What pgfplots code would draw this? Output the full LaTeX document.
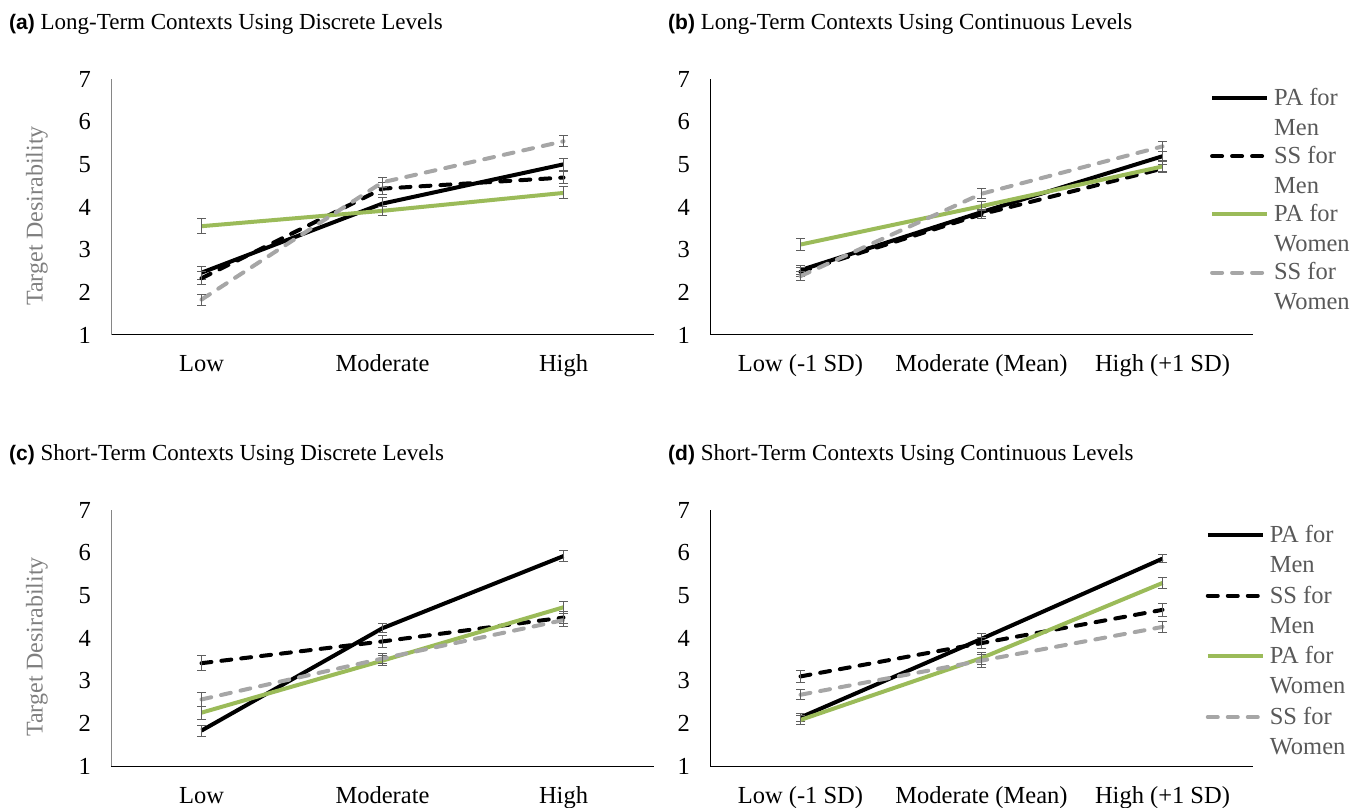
\documentclass[border=0pt]{standalone}
\usepackage{fontspec}
\setmainfont{Liberation Serif}
\setsansfont{Liberation Sans}
\usepackage{pgfplots}
\pgfplotsset{compat=1.18}
\definecolor{pgreen}{RGB}{155,187,89}
\definecolor{sgray}{RGB}{166,166,166}
\definecolor{errgray}{RGB}{95,95,95}
\definecolor{leggray}{RGB}{89,89,89}
\definecolor{labgray}{RGB}{127,127,127}
\definecolor{axgray}{RGB}{134,134,134}
\pgfplotsset{
  panel/.style={
    width=543pt, height=256pt, scale only axis,
    xmin=0, xmax=3, ymin=1, ymax=7,
    ytick={1,2,3,4,5,6,7},
    xtick={0.5,1.5,2.5},
    separate axis lines,
    axis x line*=bottom, axis y line*=left,
    axis line style={-},
    x axis line style={black, line width=1pt},
    major tick length=0pt,
    tick style={draw=none},
    /pgf/number format/assume math mode=true,
    tick label style={font=\fontsize{24.5}{29}\selectfont, black},
    yticklabel style={anchor=east, inner sep=0pt, xshift=-20pt},
    xticklabel style={anchor=base, inner sep=0pt, yshift=-37pt},
    anchor=south west,
    clip=false,
  },
  ylab/.style={
    ylabel={Target Desirability},
    every axis y label/.style={at={(axis description cs:-0.1363,0.465)}, rotate=90, anchor=center,
      font=\fontsize{24}{28}\selectfont, text=labgray},
  },
  leg/.style={
    legend style={draw=none, fill=none, inner sep=0pt, outer sep=0pt,
      font=\fontsize{24.5}{30}\selectfont, text=leggray,
      cells={anchor=west, align=left, inner sep=0pt},
      column sep=3pt, anchor=north west},
    legend image code/.code={\draw[##1] (0pt,14.5pt) -- (55pt,14.5pt);},
  },
  pam/.style={black, line width=4pt, line join=round},
  ssm/.style={black, line width=4pt, line cap=round, dash pattern=on 10pt off 10pt},
  paw/.style={pgreen, line width=4pt, line join=round},
  ssw/.style={sgray, line width=4pt, line cap=round, dash pattern=on 10pt off 10pt},
  eb/.style={
    /pgfplots/error bars/y dir=both,
    /pgfplots/error bars/y explicit,
    /pgfplots/error bars/error bar style={solid, line width=1pt, errgray, line cap=butt},
    /pgfplots/error bars/error mark options={solid, rotate=90, line width=1pt, errgray, mark size=4.5pt, line cap=butt},
  },
}
\begin{document}
\begin{tikzpicture}
\useasboundingbox (0pt,0pt) rectangle (1351pt,807pt);

% titles
\node[anchor=base west, inner sep=0pt, font=\fontsize{23}{28}\selectfont] at (9pt,777pt)
  {{\fontsize{21}{25}\sffamily\bfseries (a)} Long-Term Contexts Using Discrete Levels};
\node[anchor=base west, inner sep=0pt, font=\fontsize{23}{28}\selectfont] at (668pt,777pt)
  {{\fontsize{21}{25}\sffamily\bfseries (b)} Long-Term Contexts Using Continuous Levels};
\node[anchor=base west, inner sep=0pt, font=\fontsize{23}{28}\selectfont] at (9pt,347pt)
  {{\fontsize{21}{25}\sffamily\bfseries (c)} Short-Term Contexts Using Discrete Levels};
\node[anchor=base west, inner sep=0pt, font=\fontsize{23}{28}\selectfont] at (668pt,347pt)
  {{\fontsize{21}{25}\sffamily\bfseries (d)} Short-Term Contexts Using Continuous Levels};

% (a)
\begin{axis}[panel, ylab, at={(111pt,472pt)},
  y axis line style={axgray, line width=1pt},
  xticklabels={Low,Moderate,High}]
\addplot[pam, eb] coordinates {(0.5,2.46) +- (0,0.15) (1.5,4.08) +- (0,0.14) (2.5,5.00) +- (0,0.14)};
\addplot[ssm, eb] coordinates {(0.5,2.33) +- (0,0.15) (1.5,4.43) +- (0,0.14) (2.5,4.69) +- (0,0.14)};
\addplot[paw, eb] coordinates {(0.5,3.55) +- (0,0.17) (1.5,3.91) +- (0,0.10) (2.5,4.33) +- (0,0.14)};
\addplot[ssw, eb] coordinates {(0.5,1.83) +- (0,0.13) (1.5,4.58) +- (0,0.12) (2.5,5.54) +- (0,0.125)};
\end{axis}

% (b)
\begin{axis}[panel, leg, at={(710pt,472pt)},
  y axis line style={black, line width=1pt},
  xticklabels={Low (-1 SD),Moderate (Mean),High (+1 SD)},
  legend style={at={(0.921,0.9727)}, row sep=5.5pt}]
\addplot[pam, eb] coordinates {(0.5,2.52) +- (0,0.11) (1.5,3.88) +- (0,0.11) (2.5,5.19) +- (0,0.11)};
\addlegendentry{PA for\\Men}
\addplot[ssm, eb] coordinates {(0.5,2.48) +- (0,0.11) (1.5,3.83) +- (0,0.11) (2.5,4.90) +- (0,0.10)};
\addlegendentry{SS for\\Men}
\addplot[paw, eb] coordinates {(0.5,3.12) +- (0,0.13) (1.5,4.02) +- (0,0.11) (2.5,4.95) +- (0,0.11)};
\addlegendentry{PA for\\Women}
\addplot[ssw, eb] coordinates {(0.5,2.38) +- (0,0.11) (1.5,4.31) +- (0,0.12) (2.5,5.42) +- (0,0.12)};
\addlegendentry{SS for\\Women}
\end{axis}

% (c)
\begin{axis}[panel, ylab, at={(111pt,41pt)},
  y axis line style={axgray, line width=1pt},
  xticklabels={Low,Moderate,High}]
\addplot[pam, eb] coordinates {(0.5,1.83) +- (0,0.13) (1.5,4.23) +- (0,0.11) (2.5,5.92) +- (0,0.12)};
\addplot[ssm, eb] coordinates {(0.5,3.41) +- (0,0.18) (1.5,3.92) +- (0,0.14) (2.5,4.48) +- (0,0.14)};
\addplot[paw, eb] coordinates {(0.5,2.25) +- (0,0.15) (1.5,3.47) +- (0,0.11) (2.5,4.72) +- (0,0.14)};
\addplot[ssw, eb] coordinates {(0.5,2.56) +- (0,0.16) (1.5,3.52) +- (0,0.12) (2.5,4.42) +- (0,0.16)};
\end{axis}

% (d)
\begin{axis}[panel, leg, at={(710pt,41pt)},
  y axis line style={black, line width=1pt},
  xticklabels={Low (-1 SD),Moderate (Mean),High (+1 SD)},
  legend style={at={(0.913,0.949)}, row sep=8pt}]
\addplot[pam, eb] coordinates {(0.5,2.14) +- (0,0.10) (1.5,3.98) +- (0,0.12) (2.5,5.86) +- (0,0.10)};
\addlegendentry{PA for\\Men}
\addplot[ssm, eb] coordinates {(0.5,3.10) +- (0,0.15) (1.5,3.88) +- (0,0.13) (2.5,4.66) +- (0,0.15)};
\addlegendentry{SS for\\Men}
\addplot[paw, eb] coordinates {(0.5,2.08) +- (0,0.11) (1.5,3.53) +- (0,0.14) (2.5,5.29) +- (0,0.13)};
\addlegendentry{PA for\\Women}
\addplot[ssw, eb] coordinates {(0.5,2.67) +- (0,0.12) (1.5,3.47) +- (0,0.15) (2.5,4.26) +- (0,0.13)};
\addlegendentry{SS for\\Women}
\end{axis}
\end{tikzpicture}
\end{document}
